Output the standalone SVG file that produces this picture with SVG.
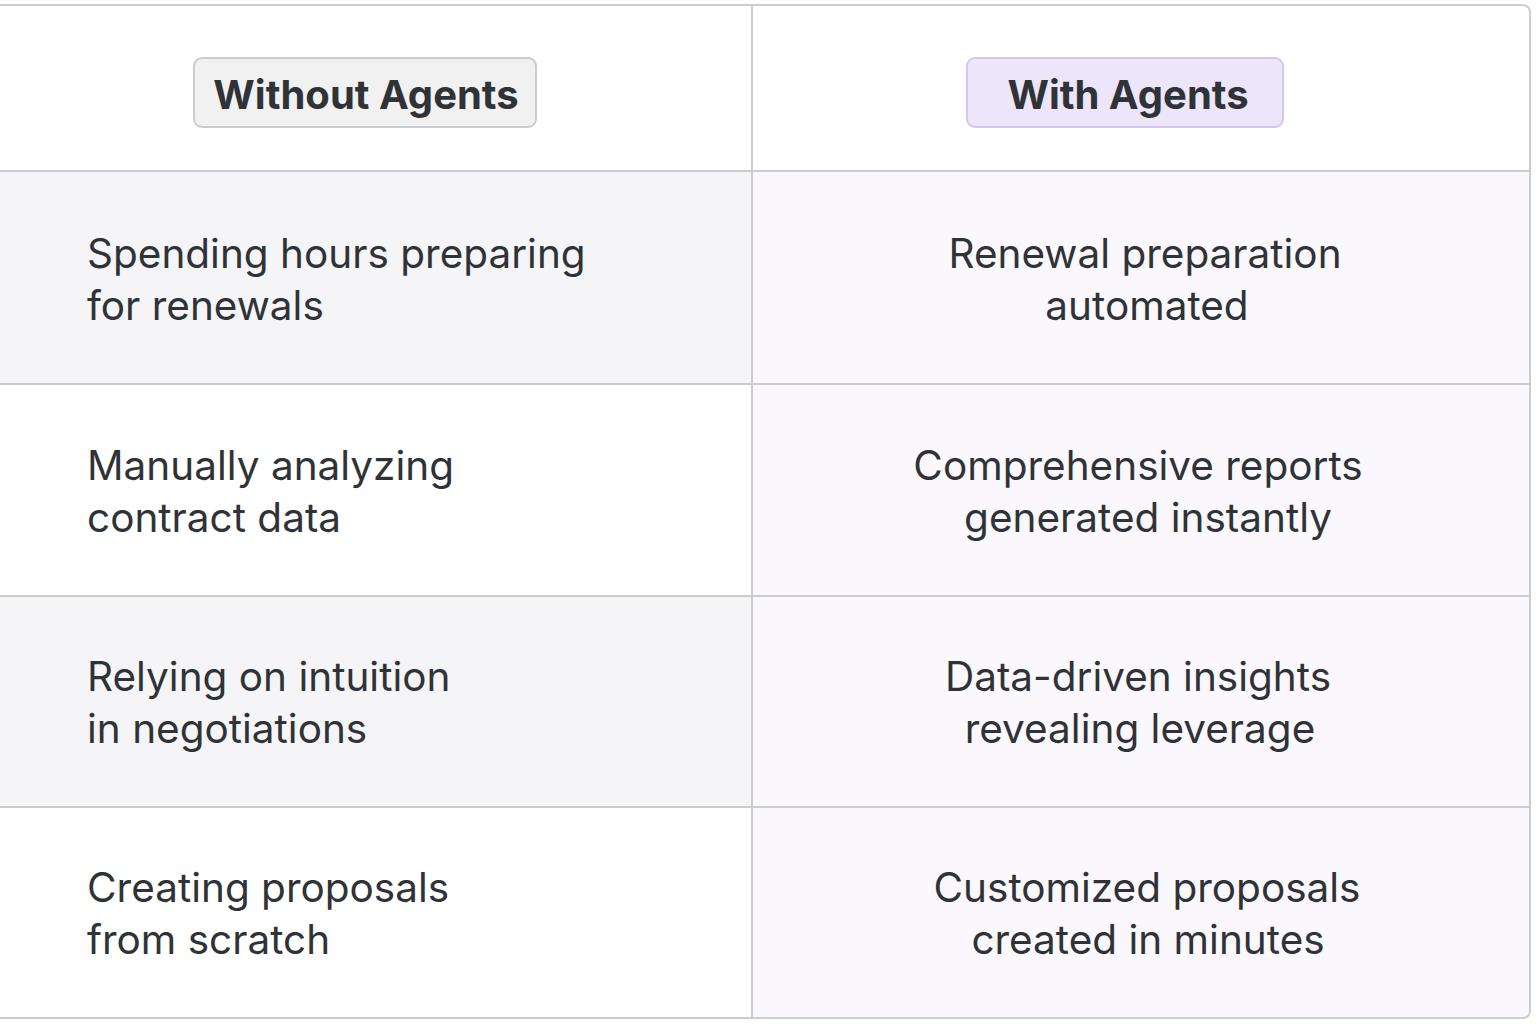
<svg xmlns="http://www.w3.org/2000/svg" width="1536" height="1024" viewBox="0 0 1536 1024">
<style>
.t{font-family:Inter,"Liberation Sans",sans-serif;font-size:40.5px;fill:#2f3337}
.h{font-family:Inter,"Liberation Sans",sans-serif;font-size:40px;font-weight:700;fill:#2f3337}
.ln{stroke:#c9cdd2;stroke-width:2;fill:none}
</style>
<rect width="1536" height="1024" fill="#fff"/>
<g id="backgrounds">
<rect x="0" y="172" width="752" height="212" fill="#f5f5f7"/>
<rect x="0" y="596" width="752" height="211" fill="#f5f5f7"/>
<rect x="753" y="172" width="777" height="846" fill="#faf8fd"/>
</g>
<g id="grid">
<path class="ln" d="M-2 5 H1522 Q1530 5 1530 13 V1010 Q1530 1018 1522 1018 H-2"/>
<path class="ln" d="M752 5 V1018 M0 171 H1530 M0 384 H1530 M0 596 H1530 M0 807 H1530"/>
</g>
<g id="header-without">
<rect x="194" y="58" width="342" height="69" rx="8" fill="#f1f1f2" stroke="#c9cbce" stroke-width="2"/>
<text class="h" x="366" y="109" text-anchor="middle">Without Agents</text>
</g>
<g id="header-with">
<rect x="967" y="58" width="316" height="69" rx="8" fill="#ede6fb" stroke="#d3c6ef" stroke-width="2"/>
<text class="h" x="1128" y="109" text-anchor="middle">With Agents</text>
</g>
<g id="row1-left"><text class="t" x="87" y="268">Spending hours preparing</text><text class="t" x="87" y="320">for renewals</text></g>
<g id="row1-right"><text class="t" x="1145" y="268" text-anchor="middle">Renewal preparation</text><text class="t" x="1147" y="320" text-anchor="middle">automated</text></g>
<g id="row2-left"><text class="t" x="87" y="480">Manually analyzing</text><text class="t" x="87" y="532">contract data</text></g>
<g id="row2-right"><text class="t" x="1138" y="480" text-anchor="middle">Comprehensive reports</text><text class="t" x="1148" y="532" text-anchor="middle">generated instantly</text></g>
<g id="row3-left"><text class="t" x="87" y="691">Relying on intuition</text><text class="t" x="87" y="743">in negotiations</text></g>
<g id="row3-right"><text class="t" x="1138" y="691" text-anchor="middle">Data-driven insights</text><text class="t" x="1140" y="743" text-anchor="middle">revealing leverage</text></g>
<g id="row4-left"><text class="t" x="87" y="902">Creating proposals</text><text class="t" x="87" y="954">from scratch</text></g>
<g id="row4-right"><text class="t" x="1147" y="902" text-anchor="middle">Customized proposals</text><text class="t" x="1148" y="954" text-anchor="middle">created in minutes</text></g>
</svg>
